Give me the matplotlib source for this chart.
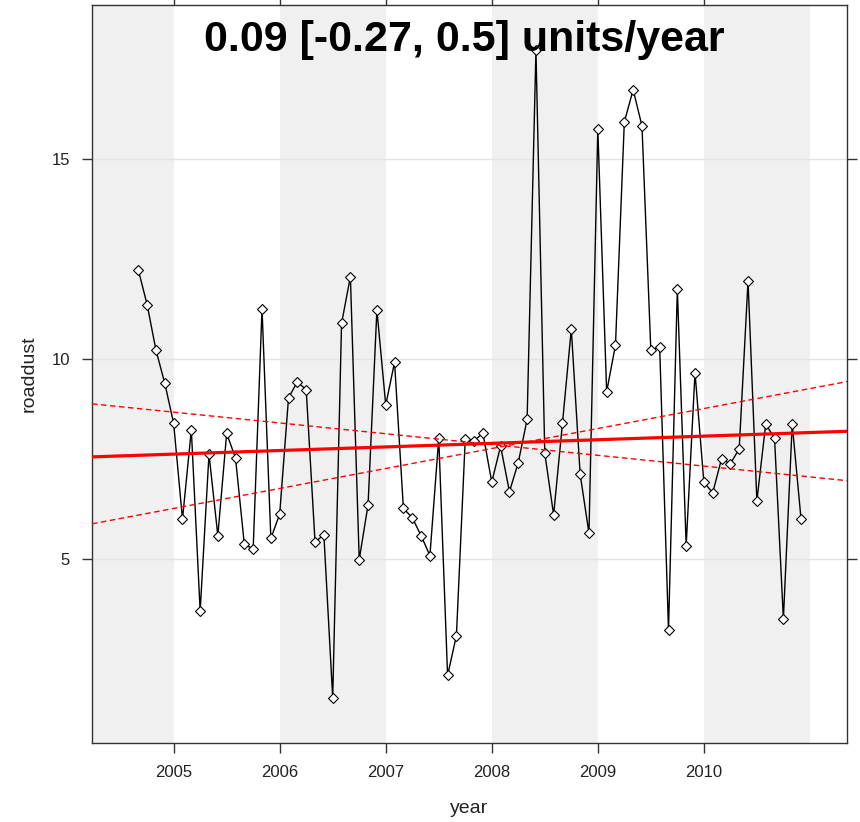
import numpy as np
import matplotlib
matplotlib.use("Agg")
import matplotlib.pyplot as plt

plt.rcParams['font.family'] = ['Liberation Sans', 'DejaVu Sans']

# Monthly roaddust means, Sep 2004 .. Dec 2010
start_year, start_month = 2004, 9
roaddust = [
    12.23, 11.36, 10.22, 9.39,
    8.39, 5.99, 8.23, 3.69, 7.62, 5.58, 8.14, 7.52, 5.36, 5.25, 11.26, 5.51,
    6.12, 9.03, 9.43, 9.23, 5.42, 5.60, 1.52, 10.89, 12.06, 4.98, 6.35, 11.23,
    8.85, 9.92, 6.26, 6.03, 5.58, 5.08, 8.02, 2.08, 3.08, 8.00, 7.96, 8.14,
    6.92, 7.82, 6.68, 7.41, 8.49, 17.73, 7.64, 6.10, 8.39, 10.75, 7.12, 5.64,
    15.76, 9.18, 10.35, 15.93, 16.74, 15.83, 10.22, 10.31, 3.21, 11.76, 5.33, 9.66,
    6.92, 6.65, 7.50, 7.38, 7.75, 11.95, 6.45, 8.37, 8.02, 3.49, 8.37, 5.99,
]

# Theil-Sen slope and 95% interval (units/year), value of each line at 2008.0
slopes = {'trend': 0.09, 'lower': -0.27, 'upper': 0.5}
at_2008 = {'trend': 7.89, 'lower': 7.86, 'upper': 7.76}
title = '0.09 [-0.27, 0.5] units/year'

year_ticks = [2005, 2006, 2007, 2008, 2009, 2010]
shaded_years = [2004, 2006, 2008, 2010]
y_ticks = [5, 10, 15]
xlim = (2004.23, 2011.35)
ylim = (0.39, 18.86)

# decimal year for each month
n = len(roaddust)
months = np.arange(n) + (start_month - 1)
x = start_year + months / 12.0
y = np.array(roaddust)

fig = plt.figure(figsize=(8.6, 8.22), dpi=100)
ax = fig.add_axes([92 / 860, 1 - 743 / 822, (847 - 92) / 860, (743 - 5) / 822])

for yr in shaded_years:
    ax.axvspan(yr, yr + 1, color='#f0f0f0', lw=0, zorder=0)
for yt in y_ticks:
    ax.axhline(yt, color='#e4e4e4', lw=1, zorder=0.5)

ax.plot(x, y, color='black', lw=1, marker='D', ms=4.8, mfc='white',
        mec='black', mew=0.8, zorder=3)

xs = np.array(xlim)
for key in ['trend', 'lower', 'upper']:
    ys = at_2008[key] + slopes[key] * (xs - 2008.0)
    if key == 'trend':
        ax.plot(xs, ys, color='red', lw=2.3, zorder=4)
    else:
        ax.plot(xs, ys, color='red', lw=1.0, dashes=(4, 2.5), zorder=4)

ax.set_xlim(*xlim)
ax.set_ylim(*ylim)
ax.set_xticks(year_ticks)
ax.set_xticklabels([str(v) for v in year_ticks])
ax.set_yticks(y_ticks)
ax.tick_params(axis='both', which='both', direction='out', length=7,
               width=1, color='#333333', labelsize=12, labelcolor='#222222',
               top=True, right=True, labeltop=False, labelright=False, pad=9)
for sp in ax.spines.values():
    sp.set_color('#333333')
    sp.set_linewidth(1)

ax.set_xlabel('year', fontsize=14, color='#222222', labelpad=14)
ax.set_ylabel('roaddust', fontsize=14, color='#222222', labelpad=10)

fig.text(464 / 860, 1 - 51 / 822, title, ha='center', va='baseline',
         fontsize=31, fontweight='bold', color='black')

fig.savefig('out.png', dpi=100)
